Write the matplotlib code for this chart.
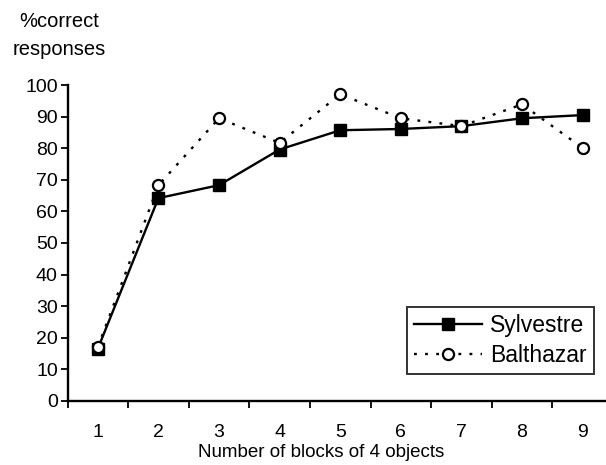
import numpy as np
import matplotlib
matplotlib.use('Agg')
import matplotlib.pyplot as plt

plt.rcParams['font.family'] = ['Liberation Sans', 'DejaVu Sans']

# data
blocks = [1, 2, 3, 4, 5, 6, 7, 8, 9]
sylvestre = [16.5, 64.2, 68.3, 79.6, 85.7, 86.1, 87.0, 89.5, 90.5]
balthazar = [17.0, 68.3, 89.5, 81.7, 97.1, 89.5, 87.0, 93.9, 80.1]
yticks = [0, 10, 20, 30, 40, 50, 60, 70, 80, 90, 100]

fig = plt.figure(figsize=(6.06, 4.65), dpi=100)
ax = fig.add_axes([0.1114, 0.138, 0.9, 0.679])

ax.plot(blocks, sylvestre, color='k', linewidth=1.7, marker='s',
        markersize=8, markerfacecolor='k', markeredgecolor='k',
        label='Sylvestre', zorder=3)
ax.plot(blocks, balthazar, color='k', linewidth=1.7, linestyle=(0, (1.2, 3.5)),
        marker='o', markersize=8, markerfacecolor='white',
        markeredgecolor='k', markeredgewidth=1.6, label='Balthazar', zorder=4)

ax.set_xlim(0.5, 9.5)
ax.set_ylim(0, 100)
ax.set_yticks(yticks)
ax.set_xticks(np.arange(0.5, 9.6, 1.0))
ax.set_xticklabels([])
ax.set_xticks(blocks, minor=True)
ax.set_xticklabels([str(b) for b in blocks], minor=True)
ax.tick_params(axis='x', which='major', direction='out', length=5, width=1.3)
ax.tick_params(axis='x', which='minor', length=0, pad=17, labelsize=14)
ax.tick_params(axis='y', direction='out', length=5, width=1.3, pad=2, labelsize=14)

for side in ['top', 'right']:
    ax.spines[side].set_visible(False)
for side in ['left', 'bottom']:
    ax.spines[side].set_linewidth(1.7)

fig.text(0.0975, 0.953, '%correct', fontsize=14.5, ha='center', va='center')
fig.text(0.0975, 0.893, 'responses', fontsize=14.5, ha='center', va='center')
fig.text(0.53, 0.026, 'Number of blocks of 4 objects', fontsize=13.5,
         ha='center', va='center')

leg = ax.legend(loc='lower right', bbox_to_anchor=(0.98, 0.196),
                bbox_transform=fig.transFigure, fontsize=16.5, frameon=True,
                fancybox=False, edgecolor='k', handlelength=3.0,
                handletextpad=0.35, borderpad=0.3, labelspacing=0.3,
                borderaxespad=0)
leg.get_frame().set_linewidth(1.4)

fig.savefig('out.png', dpi=100)
